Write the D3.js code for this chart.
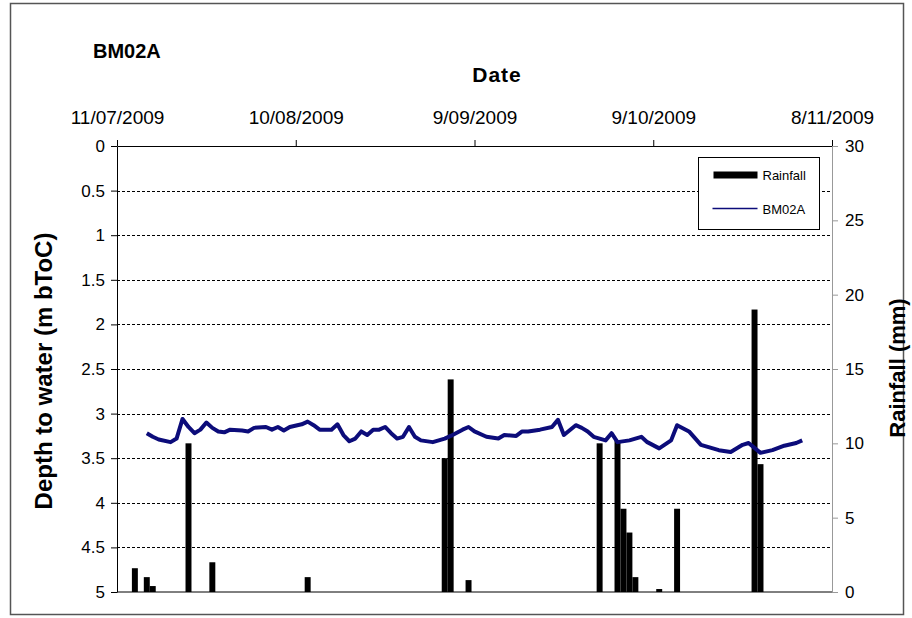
<!DOCTYPE html>
<html>
<head>
<meta charset="utf-8">
<script src="https://cdn.jsdelivr.net/npm/d3@7"></script>
<style>
  body { margin: 0; background: #fff; }
  svg { display: block; font-family: "Liberation Sans", Arial, sans-serif; }
</style>
</head>
<body>
<div id="chart"></div>
<script>
// Rainfall (mm), daily totals
const rainDates = ["2009-07-14", "2009-07-16", "2009-07-17", "2009-07-23", "2009-07-27", "2009-08-12",
  "2009-09-04", "2009-09-05", "2009-09-08", "2009-09-30", "2009-10-03", "2009-10-04", "2009-10-05",
  "2009-10-06", "2009-10-10", "2009-10-13", "2009-10-26", "2009-10-27"];
const rainValues = [1.6, 1.0, 0.4, 10, 2.0, 1.0, 9.0, 14.3, 0.8, 10, 10.2, 5.6, 4.0, 1.0, 0.2, 5.6, 19, 8.6];

// BM02A depth to water (m bToC)
const levelDates = ["2009-07-16", "2009-07-17", "2009-07-18", "2009-07-20", "2009-07-21", "2009-07-22",
  "2009-07-23", "2009-07-24", "2009-07-25", "2009-07-26", "2009-07-27", "2009-07-28", "2009-07-29",
  "2009-07-30", "2009-08-01", "2009-08-02", "2009-08-03", "2009-08-05", "2009-08-06", "2009-08-07",
  "2009-08-08", "2009-08-09", "2009-08-11", "2009-08-12", "2009-08-13", "2009-08-14", "2009-08-16",
  "2009-08-17", "2009-08-18", "2009-08-19", "2009-08-20", "2009-08-21", "2009-08-22", "2009-08-23",
  "2009-08-24", "2009-08-25", "2009-08-26", "2009-08-27", "2009-08-28", "2009-08-29", "2009-08-30",
  "2009-08-31", "2009-09-02", "2009-09-03", "2009-09-04", "2009-09-05", "2009-09-07", "2009-09-08",
  "2009-09-09", "2009-09-11", "2009-09-13", "2009-09-14", "2009-09-16", "2009-09-17", "2009-09-18",
  "2009-09-20", "2009-09-22", "2009-09-23", "2009-09-24", "2009-09-26", "2009-09-27", "2009-09-28",
  "2009-09-29", "2009-10-01", "2009-10-02", "2009-10-03", "2009-10-05", "2009-10-07", "2009-10-08",
  "2009-10-10", "2009-10-12", "2009-10-13", "2009-10-15", "2009-10-17", "2009-10-20", "2009-10-22",
  "2009-10-24", "2009-10-25", "2009-10-27", "2009-10-29", "2009-10-31", "2009-11-02", "2009-11-03"];
const levelValues = [3.22, 3.26, 3.29, 3.32, 3.28, 3.06, 3.15, 3.22, 3.18, 3.10, 3.16, 3.20, 3.21,
  3.18, 3.19, 3.20, 3.16, 3.15, 3.18, 3.15, 3.19, 3.15, 3.12, 3.09, 3.13, 3.18, 3.18,
  3.12, 3.24, 3.31, 3.28, 3.20, 3.24, 3.18, 3.18, 3.15, 3.22, 3.28, 3.26, 3.15, 3.26,
  3.30, 3.32, 3.30, 3.28, 3.25, 3.18, 3.15, 3.20, 3.26, 3.28, 3.24, 3.25, 3.20, 3.20,
  3.18, 3.15, 3.07, 3.24, 3.13, 3.16, 3.20, 3.26, 3.30, 3.22, 3.32, 3.30, 3.26, 3.32,
  3.39, 3.30, 3.13, 3.20, 3.35, 3.41, 3.43, 3.35, 3.33, 3.44, 3.41, 3.36, 3.33, 3.30];

// Axis ticks
const dateTicks = ["2009-07-11", "2009-08-10", "2009-09-09", "2009-10-09", "2009-11-08"];
const dateTickLabels = ["11/07/2009", "10/08/2009", "9/09/2009", "9/10/2009", "8/11/2009"];
const depthTicks = [0, 0.5, 1, 1.5, 2, 2.5, 3, 3.5, 4, 4.5, 5];
const rainTicks = [0, 5, 10, 15, 20, 25, 30];

const width = 912;
const height = 618;
const marginLeft = 117;
const marginRight = 80;
const marginTop = 146;
const marginBottom = 26;

const parse = d3.utcParse("%Y-%m-%d");
const DAY = 864e5;

const x = d3.scaleUtc()
    .domain([parse(dateTicks[0]), parse(dateTicks[dateTicks.length - 1])])
    .range([marginLeft, width - marginRight]);

const y = d3.scaleLinear()
    .domain([0, 5])
    .range([marginTop, height - marginBottom]);

const yRain = d3.scaleLinear()
    .domain([0, 30])
    .range([height - marginBottom, marginTop]);

const svg = d3.select("#chart").append("svg")
    .attr("width", width)
    .attr("height", height);

// outer frame
svg.append("rect")
    .attr("x", 10.5).attr("y", 3.5)
    .attr("width", 893).attr("height", 611)
    .attr("fill", "#fff")
    .attr("stroke", "#555")
    .attr("stroke-width", 1.5);

// dashed gridlines
svg.append("g")
    .selectAll("line")
    .data(depthTicks.slice(1, -1))
    .join("line")
    .attr("x1", marginLeft).attr("x2", width - marginRight)
    .attr("y1", d => Math.round(y(d)) + 0.5).attr("y2", d => Math.round(y(d)) + 0.5)
    .attr("stroke", "#000")
    .attr("stroke-dasharray", "3,2");

// rainfall bars
const rain = rainDates.map((d, i) => ({ date: parse(d), value: rainValues[i] }));
svg.append("g")
    .selectAll("rect")
    .data(rain)
    .join("rect")
    .attr("x", d => x(new Date(+d.date - DAY / 2)))
    .attr("width", d => x(new Date(+d.date + DAY / 2)) - x(new Date(+d.date - DAY / 2)))
    .attr("y", d => yRain(d.value))
    .attr("height", d => yRain(0) - yRain(d.value))
    .attr("fill", "#000");

// water level line
const level = levelDates.map((d, i) => ({ date: parse(d), value: levelValues[i] }));
const line = d3.line()
    .x(d => x(d.date))
    .y(d => y(d.value));

svg.append("path")
    .datum(level)
    .attr("fill", "none")
    .attr("stroke", "#0c0c7a")
    .attr("stroke-width", 4)
    .attr("stroke-linejoin", "round")
    .attr("d", line);

// top date axis
const xAxis = d3.axisTop(x)
    .tickValues(dateTicks.map(parse))
    .tickFormat((d, i) => dateTickLabels[i])
    .tickSize(6)
    .tickPadding(16)
    .tickSizeOuter(0);

svg.append("g")
    .attr("transform", `translate(0,${marginTop})`)
    .call(xAxis)
    .call(g => g.selectAll("text").attr("font-size", 19).attr("fill", "#000"))
    .call(g => g.selectAll("line, path").attr("stroke", "#000"));

// left depth axis
const yAxis = d3.axisLeft(y)
    .tickValues(depthTicks)
    .tickFormat(d => d)
    .tickSize(6)
    .tickPadding(6)
    .tickSizeOuter(0);

svg.append("g")
    .attr("transform", `translate(${marginLeft},0)`)
    .call(yAxis)
    .call(g => g.selectAll("text").attr("font-size", 17).attr("fill", "#000"))
    .call(g => g.selectAll("line, path").attr("stroke", "#000"));

// right rainfall axis
const yRainAxis = d3.axisRight(yRain)
    .tickValues(rainTicks)
    .tickSize(6)
    .tickPadding(7)
    .tickSizeOuter(0);

svg.append("g")
    .attr("transform", `translate(${width - marginRight},0)`)
    .call(yRainAxis)
    .call(g => g.selectAll("text").attr("font-size", 17).attr("fill", "#000"))
    .call(g => g.selectAll("line, path").attr("stroke", "#999"));

// bottom baseline
svg.append("line")
    .attr("x1", marginLeft).attr("x2", width - marginRight)
    .attr("y1", height - marginBottom).attr("y2", height - marginBottom)
    .attr("stroke", "#000");

// titles
svg.append("text")
    .attr("x", 93).attr("y", 58)
    .attr("font-size", 20).attr("font-weight", "bold")
    .text("BM02A");

svg.append("text")
    .attr("x", 497).attr("y", 82)
    .attr("text-anchor", "middle")
    .attr("font-size", 21).attr("font-weight", "bold")
    .attr("letter-spacing", 1)
    .text("Date");

svg.append("text")
    .attr("transform", "translate(52,371) rotate(-90)")
    .attr("text-anchor", "middle")
    .attr("font-size", 24).attr("font-weight", "bold")
    .text("Depth to water (m bToC)");

svg.append("text")
    .attr("transform", "translate(905,368) rotate(-90)")
    .attr("text-anchor", "middle")
    .attr("font-size", 22).attr("font-weight", "bold")
    .text("Rainfall (mm)");

// legend
const legend = svg.append("g").attr("transform", "translate(698.5,157.5)");
legend.append("rect")
    .attr("width", 121).attr("height", 72)
    .attr("fill", "#fff").attr("stroke", "#000");
legend.append("rect")
    .attr("x", 15).attr("y", 14).attr("width", 44).attr("height", 7)
    .attr("fill", "#000");
legend.append("text")
    .attr("x", 64).attr("y", 22)
    .attr("font-size", 13)
    .text("Rainfall");
legend.append("line")
    .attr("x1", 14).attr("x2", 59).attr("y1", 51).attr("y2", 51)
    .attr("stroke", "#0c0c7a").attr("stroke-width", 1.5);
legend.append("text")
    .attr("x", 64).attr("y", 56)
    .attr("font-size", 13)
    .text("BM02A");
</script>
</body>
</html>
